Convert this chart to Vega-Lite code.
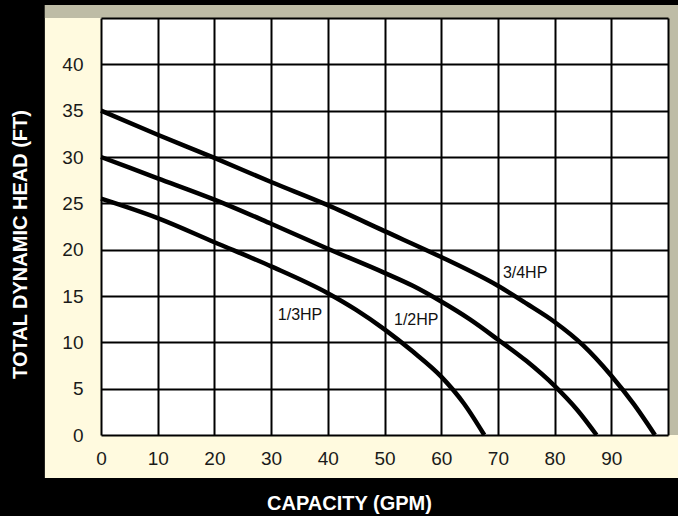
{
  "$schema": "https://vega.github.io/schema/vega-lite/v6.json",
  "width": 567,
  "height": 417,
  "autosize": {"type": "none"},
  "padding": {"left": 101, "top": 18, "right": 10, "bottom": 81},
  "background": "black",
  "config": {
    "view": {"stroke": null},
    "font": "Liberation Sans",
    "axis": {
      "grid": true, "gridColor": "black", "gridWidth": 2, "gridOpacity": 1,
      "domain": false, "ticks": false, "tickSize": 0, "labelFlush": false,
      "labelFontSize": 19, "labelColor": "#1a1a1a",
      "labelFont": "Liberation Sans",
      "titleColor": "white", "titleFontSize": 20, "titleFontWeight": "bold",
      "titleFont": "Liberation Sans",
      "titleAlign": "center", "titleBaseline": "middle"
    },
    "axisX": {"labelPadding": 14, "titleX": 248, "titleY": 68},
    "axisY": {"labelPadding": 18, "titleX": -81, "titleY": 226, "titleAngle": -90}
  },
  "datasets": {
    "curves": [
      {"GPM": 0, "FT": 35, "Motor": "3/4HP"},
      {"GPM": 10, "FT": 32.4, "Motor": "3/4HP"},
      {"GPM": 20, "FT": 29.9, "Motor": "3/4HP"},
      {"GPM": 30, "FT": 27.3, "Motor": "3/4HP"},
      {"GPM": 40, "FT": 24.8, "Motor": "3/4HP"},
      {"GPM": 50, "FT": 22.0, "Motor": "3/4HP"},
      {"GPM": 60, "FT": 19.2, "Motor": "3/4HP"},
      {"GPM": 70, "FT": 16.1, "Motor": "3/4HP"},
      {"GPM": 75, "FT": 14.2, "Motor": "3/4HP"},
      {"GPM": 80, "FT": 12.2, "Motor": "3/4HP"},
      {"GPM": 85, "FT": 9.7, "Motor": "3/4HP"},
      {"GPM": 90, "FT": 6.4, "Motor": "3/4HP"},
      {"GPM": 94, "FT": 3.3, "Motor": "3/4HP"},
      {"GPM": 97.7, "FT": 0, "Motor": "3/4HP"},
      {"GPM": 0, "FT": 30, "Motor": "1/2HP"},
      {"GPM": 10, "FT": 27.7, "Motor": "1/2HP"},
      {"GPM": 20, "FT": 25.4, "Motor": "1/2HP"},
      {"GPM": 30, "FT": 22.8, "Motor": "1/2HP"},
      {"GPM": 40, "FT": 20.1, "Motor": "1/2HP"},
      {"GPM": 50, "FT": 17.5, "Motor": "1/2HP"},
      {"GPM": 55, "FT": 16.1, "Motor": "1/2HP"},
      {"GPM": 60, "FT": 14.4, "Motor": "1/2HP"},
      {"GPM": 65, "FT": 12.5, "Motor": "1/2HP"},
      {"GPM": 70, "FT": 10.3, "Motor": "1/2HP"},
      {"GPM": 75, "FT": 8.0, "Motor": "1/2HP"},
      {"GPM": 80, "FT": 5.3, "Motor": "1/2HP"},
      {"GPM": 84, "FT": 2.7, "Motor": "1/2HP"},
      {"GPM": 87.4, "FT": 0, "Motor": "1/2HP"},
      {"GPM": 0, "FT": 25.5, "Motor": "1/3HP"},
      {"GPM": 10, "FT": 23.4, "Motor": "1/3HP"},
      {"GPM": 20, "FT": 20.8, "Motor": "1/3HP"},
      {"GPM": 30, "FT": 18.2, "Motor": "1/3HP"},
      {"GPM": 40, "FT": 15.3, "Motor": "1/3HP"},
      {"GPM": 45, "FT": 13.5, "Motor": "1/3HP"},
      {"GPM": 50, "FT": 11.4, "Motor": "1/3HP"},
      {"GPM": 55, "FT": 9.0, "Motor": "1/3HP"},
      {"GPM": 60, "FT": 6.3, "Motor": "1/3HP"},
      {"GPM": 64, "FT": 3.4, "Motor": "1/3HP"},
      {"GPM": 67.6, "FT": 0, "Motor": "1/3HP"}
    ],
    "labels": [
      {"GPM": 35.1, "FT": 13.0, "Motor": "1/3HP"},
      {"GPM": 55.6, "FT": 12.4, "Motor": "1/2HP"},
      {"GPM": 74.8, "FT": 17.5, "Motor": "3/4HP"}
    ]
  },
  "layer": [
    {
      "data": {"values": [{}]},
      "mark": {"type": "rect", "color": "#FFFADF"},
      "encoding": {
        "x": {"datum": -9.9, "type": "quantitative", "scale": {"domain": [0, 100], "nice": false, "zero": false},
              "axis": {"title": "CAPACITY (GPM)", "zindex": 1, "values": [0, 10, 20, 30, 40, 50, 60, 70, 80, 90, 100], "labelExpr": "datum.value == 100 ? '' : datum.label"}},
        "x2": {"datum": 101.8},
        "y": {"datum": -4.64, "type": "quantitative", "scale": {"domain": [0, 45], "nice": false, "zero": false},
              "axis": {"title": "TOTAL DYNAMIC HEAD (FT)", "zindex": 1, "values": [0, 5, 10, 15, 20, 25, 30, 35, 40, 45], "labelExpr": "datum.value == 45 ? '' : datum.label"}},
        "y2": {"datum": 46.4}
      }
    },
    {
      "data": {"values": [{}]},
      "mark": {"type": "rect", "color": "#BEBCA6"},
      "encoding": {
        "x": {"datum": -9.9, "type": "quantitative", "scale": {"domain": [0, 100], "nice": false, "zero": false},
              "axis": {"title": "CAPACITY (GPM)", "zindex": 1, "values": [0, 10, 20, 30, 40, 50, 60, 70, 80, 90, 100], "labelExpr": "datum.value == 100 ? '' : datum.label"}},
        "x2": {"datum": 101.8},
        "y": {"datum": 45, "type": "quantitative", "scale": {"domain": [0, 45], "nice": false, "zero": false},
              "axis": {"title": "TOTAL DYNAMIC HEAD (FT)", "zindex": 1, "values": [0, 5, 10, 15, 20, 25, 30, 35, 40, 45], "labelExpr": "datum.value == 45 ? '' : datum.label"}},
        "y2": {"datum": 46.4}
      }
    },
    {
      "data": {"values": [{}]},
      "mark": {"type": "rect", "color": "#BEBCA6"},
      "encoding": {
        "x": {"datum": 100, "type": "quantitative", "scale": {"domain": [0, 100], "nice": false, "zero": false},
              "axis": {"title": "CAPACITY (GPM)", "zindex": 1, "values": [0, 10, 20, 30, 40, 50, 60, 70, 80, 90, 100], "labelExpr": "datum.value == 100 ? '' : datum.label"}},
        "x2": {"datum": 101.8},
        "y": {"datum": 0, "type": "quantitative", "scale": {"domain": [0, 45], "nice": false, "zero": false},
              "axis": {"title": "TOTAL DYNAMIC HEAD (FT)", "zindex": 1, "values": [0, 5, 10, 15, 20, 25, 30, 35, 40, 45], "labelExpr": "datum.value == 45 ? '' : datum.label"}},
        "y2": {"datum": 46.4}
      }
    },
    {
      "data": {"values": [{}]},
      "mark": {"type": "rect", "color": "white"},
      "encoding": {
        "x": {"datum": 0, "type": "quantitative", "scale": {"domain": [0, 100], "nice": false, "zero": false},
              "axis": {"title": "CAPACITY (GPM)", "zindex": 1, "values": [0, 10, 20, 30, 40, 50, 60, 70, 80, 90, 100], "labelExpr": "datum.value == 100 ? '' : datum.label"}},
        "x2": {"datum": 100},
        "y": {"datum": 0, "type": "quantitative", "scale": {"domain": [0, 45], "nice": false, "zero": false},
              "axis": {"title": "TOTAL DYNAMIC HEAD (FT)", "zindex": 1, "values": [0, 5, 10, 15, 20, 25, 30, 35, 40, 45], "labelExpr": "datum.value == 45 ? '' : datum.label"}},
        "y2": {"datum": 45}
      }
    },
    {
      "data": {"name": "curves"},
      "mark": {"type": "line", "interpolate": "monotone", "color": "black", "strokeWidth": 4.5},
      "encoding": {
        "x": {"field": "GPM", "type": "quantitative", "scale": {"domain": [0, 100], "nice": false, "zero": false},
              "axis": {"title": "CAPACITY (GPM)", "zindex": 1, "values": [0, 10, 20, 30, 40, 50, 60, 70, 80, 90, 100], "labelExpr": "datum.value == 100 ? '' : datum.label"}},
        "y": {"field": "FT", "type": "quantitative", "scale": {"domain": [0, 45], "nice": false, "zero": false},
              "axis": {"title": "TOTAL DYNAMIC HEAD (FT)", "zindex": 1, "values": [0, 5, 10, 15, 20, 25, 30, 35, 40, 45], "labelExpr": "datum.value == 45 ? '' : datum.label"}},
        "detail": {"field": "Motor"}
      }
    },
    {
      "data": {"name": "labels"},
      "mark": {"type": "text", "fontSize": 16, "color": "#111111", "font": "Liberation Sans", "align": "center", "baseline": "middle"},
      "encoding": {
        "x": {"field": "GPM", "type": "quantitative", "scale": {"domain": [0, 100], "nice": false, "zero": false},
              "axis": {"title": "CAPACITY (GPM)", "zindex": 1, "values": [0, 10, 20, 30, 40, 50, 60, 70, 80, 90, 100], "labelExpr": "datum.value == 100 ? '' : datum.label"}},
        "y": {"field": "FT", "type": "quantitative", "scale": {"domain": [0, 45], "nice": false, "zero": false},
              "axis": {"title": "TOTAL DYNAMIC HEAD (FT)", "zindex": 1, "values": [0, 5, 10, 15, 20, 25, 30, 35, 40, 45], "labelExpr": "datum.value == 45 ? '' : datum.label"}},
        "text": {"field": "Motor"}
      }
    }
  ]
}
